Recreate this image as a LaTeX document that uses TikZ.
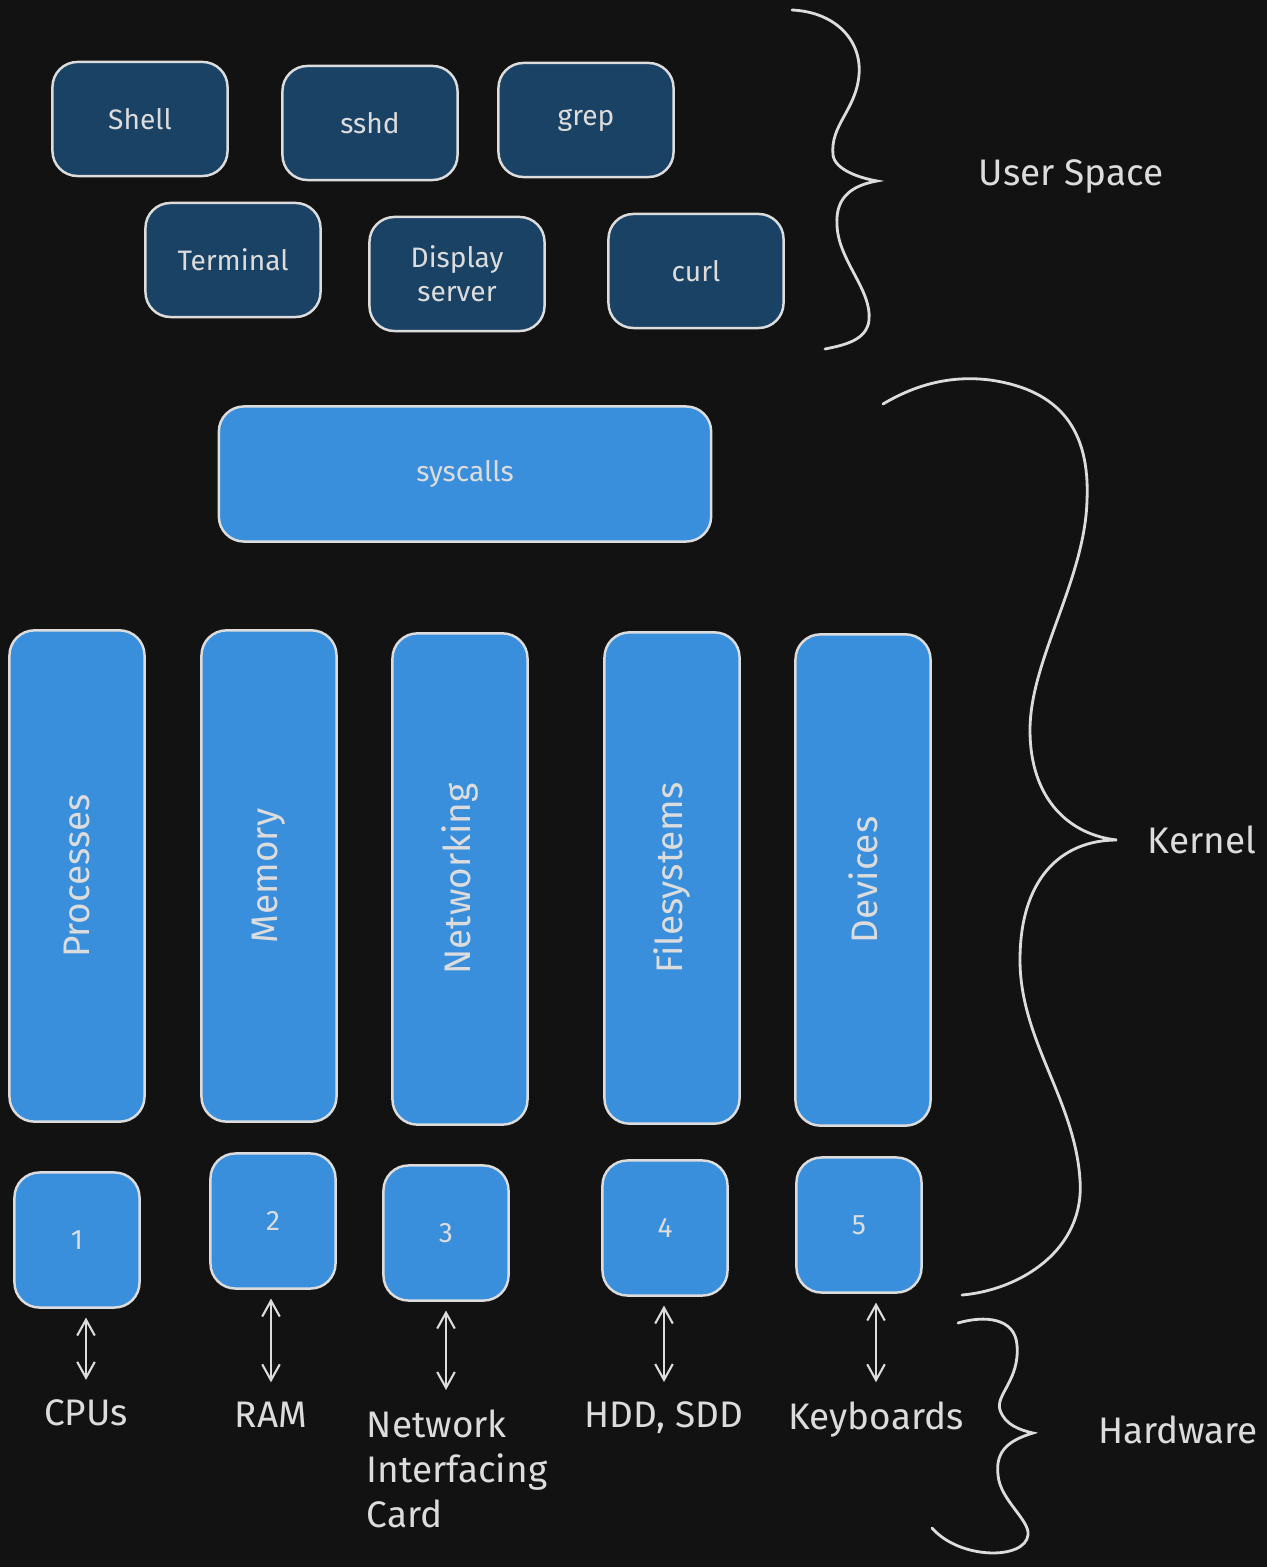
\documentclass[tikz,border=0pt]{standalone}
\usepackage{fontspec}
\setmainfont{Fira Sans}
\usepackage{tikz}
\usetikzlibrary{shapes}
\usetikzlibrary{arrows.meta}

\definecolor{bg}{HTML}{121212}
\definecolor{userblue}{HTML}{1A4264}
\definecolor{kernblue}{HTML}{3A8FDC}
\definecolor{chalk}{HTML}{DCDCDC}

\begin{document}
\begin{tikzpicture}[x=0.01cm, y=-0.01cm, line width=0.7pt]
    \tikzstyle{ubox}=[draw=chalk, fill=userblue, rounded corners=0.25cm, text=chalk,
      minimum width=1.75cm, minimum height=1.14cm, font=\fontsize{8}{9.7}\selectfont, align=center]
    \tikzstyle{kbox}=[ubox, fill=kernblue]
    \tikzstyle{col}=[kbox, rotate=90, minimum width=4.91cm, minimum height=1.35cm, font=\fontsize{10.5}{12}\selectfont]
    \tikzstyle{sq}=[kbox, minimum width=1.25cm, minimum height=1.35cm]
    \tikzstyle{lbl}=[text=chalk, font=\fontsize{10.5}{12.8}\selectfont]
    \tikzstyle{arr}=[draw=chalk, line width=0.6pt, {Straight Barb[length=4.5pt,width=5pt]}-{Straight Barb[length=4.5pt,width=5pt]}]
    \tikzstyle{brace}=[draw=chalk, line width=0.8pt, line cap=round]
    \fill[bg] (0,0) rectangle (1267,1567);
    \useasboundingbox (0,0) rectangle (1267,1567);

    \node[ubox] (shell) at (140,119) {Shell};
    \node[ubox] (sshd) at (370,123) {sshd};
    \node[ubox] (grep) at (586,120) {grep};
    \node[ubox] (term) at (233,260) {Terminal};
    \node[ubox] (disp) at (457,274) {Display\\server};
    \node[ubox] (curl) at (696,271) {curl};

    \node[kbox, minimum width=4.92cm, minimum height=1.35cm] (sys) at (465,474) {syscalls};

    \node[col] (proc) at (77,876) {Processes};
    \node[col] (mem) at (269,876) {Memory};
    \node[col] (net) at (460,879) {Networking};
    \node[col] (fs) at (672,878) {Filesystems};
    \node[col] (dev) at (863,880) {Devices};

    \node[sq] (b1) at (77,1240) {1};
    \node[sq] (b2) at (273,1221) {2};
    \node[sq] (b3) at (446,1233) {3};
    \node[sq] (b4) at (665,1228) {4};
    \node[sq] (b5) at (859,1225) {5};

    \node[lbl] (cpulbl) at (86,1413) {CPUs};
    \node[lbl] (ramlbl) at (271,1415) {RAM};
    \node[lbl, align=left, anchor=north west] (niclbl) at (354,1397) {Network\\Interfacing\\Card};
    \node[lbl] (disklbl) at (664,1418) {HDD, SDD};
    \node[lbl] (keylbl) at (876,1420) {Keyboards};

    \draw[arr, shorten <=2.5pt, shorten >=2pt] (cpulbl.north |- b1.south) -- (cpulbl.north);
    \draw[arr, shorten <=2.5pt, shorten >=2pt] (ramlbl.north |- b2.south) -- (ramlbl.north);
    \draw[arr, shorten <=2.5pt, shorten >=2pt] (b3.south) -- (b3.south |- niclbl.north);
    \draw[arr, shorten <=2.5pt, shorten >=2pt] (disklbl.north |- b4.south) -- (disklbl.north);
    \draw[arr, shorten <=2.5pt, shorten >=2pt] (keylbl.north |- b5.south) -- (keylbl.north);

    \draw[brace] (792,10) .. controls (835,12) and (862,40) .. (859,75)
      .. controls (856,110) and (830,125) .. (833,155)
      .. controls (835,170) and (860,178) .. (877,181)
      .. controls (855,185) and (835,195) .. (837,225)
      .. controls (838,260) and (872,290) .. (869,320)
      .. controls (867,340) and (845,345) .. (825,349);
    \node[lbl] (userlbl) at (1071,176) {User Space};

    \draw[brace] (883,404) .. controls (915,385) and (950,375) .. (990,380)
      .. controls (1060,390) and (1090,430) .. (1087,500)
      .. controls (1085,580) and (1030,660) .. (1030,730)
      .. controls (1030,800) and (1070,835) .. (1117,840)
      .. controls (1060,840) and (1020,880) .. (1020,960)
      .. controls (1020,1040) and (1075,1100) .. (1080,1180)
      .. controls (1085,1250) and (1020,1290) .. (962,1295);
    \node[lbl] (kernlbl) at (1202,840) {Kernel};

    \draw[brace] (958,1323) .. controls (985,1315) and (1015,1318) .. (1017,1345)
      .. controls (1020,1380) and (995,1395) .. (1000,1410)
      .. controls (1005,1425) and (1020,1430) .. (1033,1433)
      .. controls (1010,1440) and (995,1450) .. (998,1475)
      .. controls (1000,1500) and (1030,1520) .. (1028,1535)
      .. controls (1025,1560) and (960,1560) .. (932,1528);
    \node[lbl] (hardlbl) at (1178,1430) {Hardware};
\end{tikzpicture}
\end{document}
